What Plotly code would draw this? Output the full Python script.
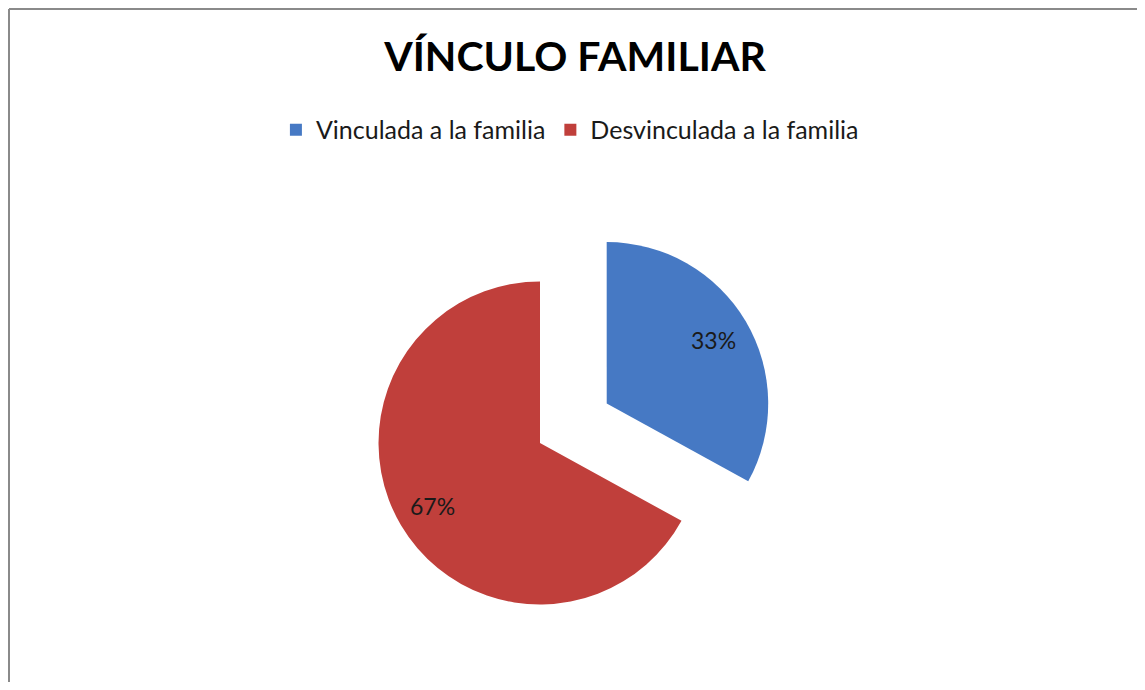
import math
import plotly.graph_objects as go

labels = ["Vinculada a la familia", "Desvinculada a la familia"]
values = [33, 67]
colors = ["#4679C4", "#C03F3B"]
pulls = [0.48, 0]

W, H = 1129, 674
dom_x = [0.25952, 0.68290]
dom_y = [0.0, 0.70920]

fig = go.Figure(go.Pie(
    labels=labels,
    values=values,
    sort=False,
    direction="clockwise",
    rotation=0,
    pull=pulls,
    marker=dict(colors=colors, line=dict(width=0)),
    textinfo="none",
    domain=dict(x=dom_x, y=dom_y),
    hoverinfo="label+percent",
))

# percentage labels placed along each slice's mid-angle (computed from the values)
w = W * (dom_x[1] - dom_x[0])
h = H * (dom_y[1] - dom_y[0])
r = min(w, h) / 2 / (1 + max(pulls))
cx = W * (dom_x[0] + dom_x[1]) / 2
cy = H * (1 - (dom_y[0] + dom_y[1]) / 2)
total = sum(values)
cum = 0.0
annotations = []
for v, p in zip(values, pulls):
    frac = v / total
    mid = (cum + frac / 2) * 2 * math.pi
    cum += frac
    ux, uy = math.sin(mid), -math.cos(mid)
    px = cx + (p * r + 0.77 * r) * ux
    py = cy + (p * r + 0.77 * r) * uy
    annotations.append(dict(x=px / W, y=1 - py / H, xref="paper", yref="paper",
                            xanchor="center", yanchor="middle",
                            text=f"{round(frac * 100)}%", showarrow=False,
                            font=dict(family="Lato", size=23, color="#1a1a1a")))

border = dict(color="#8a8a8a", width=2)
fig.update_layout(
    width=W, height=H,
    margin=dict(l=0, r=0, t=0, b=0),
    paper_bgcolor="white",
    title=dict(text="<b>VÍNCULO FAMILIAR</b>", x=0.5022, xanchor="center",
               y=0.9273, yanchor="middle",
               font=dict(family="Lato", size=41, color="black")),
    legend=dict(orientation="h", x=0.2373, xanchor="left", y=0.819, yanchor="middle",
                font=dict(family="Lato", size=25, color="#1a1a1a")),
    annotations=annotations,
    shapes=[
        dict(type="line", xref="paper", yref="paper", x0=1 / W, x1=1, y0=1 - 1 / H, y1=1 - 1 / H, line=border),
        dict(type="line", xref="paper", yref="paper", x0=1 / W, x1=1 / W, y0=0, y1=1 - 1 / H, line=border),
    ],
)

fig.write_html("out.html")
